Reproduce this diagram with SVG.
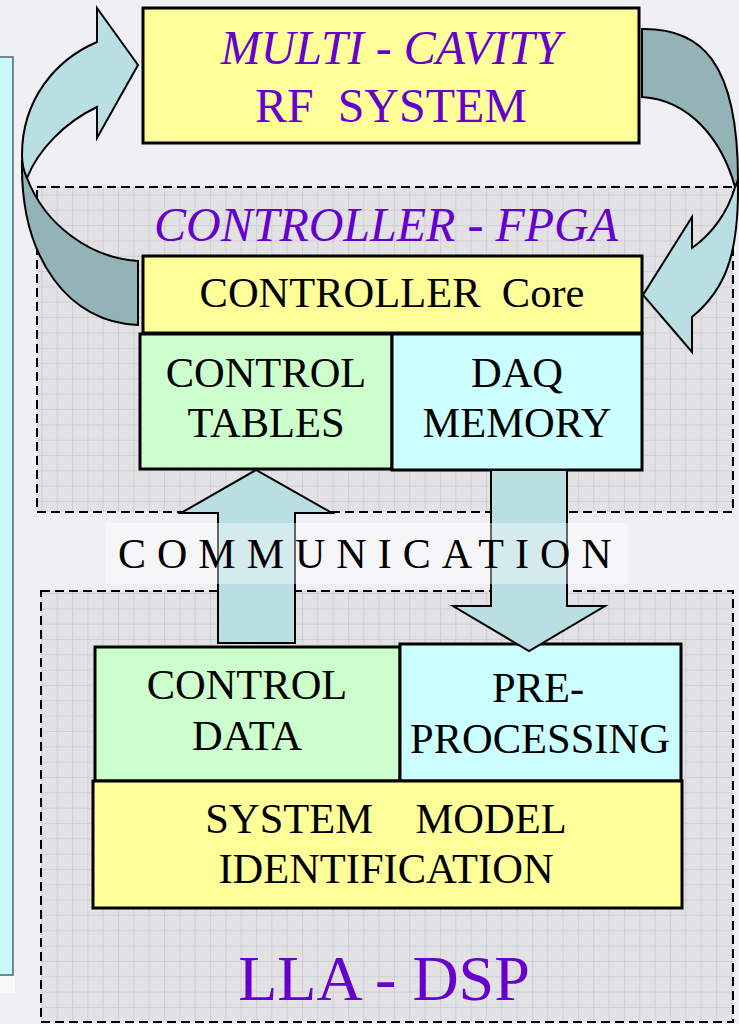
<svg xmlns="http://www.w3.org/2000/svg" width="739" height="1024" viewBox="0 0 739 1024">
<defs>
<style>
.box{stroke:#000;stroke-width:3}
.y{fill:#ffff99}
.g{fill:#ccffcc}
.c{fill:#ccffff}
.t{font-family:"Liberation Serif","Times New Roman",serif;fill:#000;font-size:42.5px;text-anchor:middle}
.p{fill:#6600cc;font-size:48px}
.i{font-style:italic}
.dash{fill:url(#grid);stroke:#000;stroke-width:2;stroke-dasharray:9 5}
.ar{stroke:#000;stroke-width:2;stroke-linejoin:miter}
.al{fill:#b9dfe3}
.ad{fill:#94b3b7}
</style>
<pattern id="grid" patternUnits="userSpaceOnUse" width="15.33" height="15.33" x="10.7" y="10.5">
<rect width="15.33" height="15.33" fill="#e2e2e5"/>
<path d="M0,0.5 H15.33 M0.5,0 V15.33" stroke="#d0d0d4" stroke-width="1" fill="none"/>
</pattern>
</defs>
<rect width="739" height="1024" fill="#f0f0f4"/>
<rect x="-2" y="57" width="15" height="918" fill="#c8f8f8" stroke="#4f6a6a" stroke-width="1.5"/>
<rect x="0" y="976" width="15" height="17" fill="#f8f8f8"/>

<g id="controller-fpga">
<rect class="dash" x="37" y="187" width="696" height="325"/>
<text class="t p i" x="386" y="241">CONTROLLER - FPGA</text>
</g>
<g id="lla-dsp">
<rect class="dash" x="41" y="591" width="692" height="431"/>
<text class="t p" x="384" y="1000" style="font-size:64px">LLA - DSP</text>
</g>

<g id="multi-cavity">
<rect class="box y" x="143" y="8" width="496" height="135"/>
<text class="t p i" x="391" y="64">MULTI - CAVITY</text>
<text class="t p" x="391" y="122" xml:space="preserve">RF  SYSTEM</text>
</g>
<g id="controller-core">
<rect class="box y" x="143" y="256" width="499" height="77"/>
<text class="t" x="392" y="307" xml:space="preserve">CONTROLLER  Core</text>
</g>
<g id="control-tables">
<rect class="box g" x="140" y="334" width="252" height="135"/>
<text class="t" x="266" y="387">CONTROL</text>
<text class="t" x="266" y="437">TABLES</text>
</g>
<g id="daq-memory">
<rect class="box c" x="392" y="334" width="250" height="136"/>
<text class="t" x="517" y="387">DAQ</text>
<text class="t" x="517" y="437">MEMORY</text>
</g>
<g id="control-data">
<rect class="box g" x="95" y="647" width="305" height="134"/>
<text class="t" x="247" y="699">CONTROL</text>
<text class="t" x="247" y="750">DATA</text>
</g>
<g id="pre-processing">
<rect class="box c" x="400" y="644" width="281" height="137"/>
<text class="t" x="538" y="702">PRE-</text>
<text class="t" x="540" y="753">PROCESSING</text>
</g>
<g id="system-model">
<rect class="box y" x="93" y="781" width="589" height="127"/>
<text class="t" x="386" y="833" xml:space="preserve">SYSTEM    MODEL</text>
<text class="t" x="386" y="883">IDENTIFICATION</text>
</g>

<g id="connectors">
<path class="ar ad" d="M138,261 C90,258 45,225 27,178 L22,160 C20,260 70,323 138,325 Z"/>
<path class="ar al" d="M97,42 C55,60 22,100 22,155 C22,165 24,172 27,178 C38,150 65,122 97,107 L97,138 L138,65 L97,8 Z"/>
<path class="ar ad" d="M642,29 C700,28 738,60 738,180 L735,187 C722,140 690,100 642,97 Z"/>
<path class="ar al" d="M735,187 C728,212 712,234 692,248 L692,217 L643,295 L692,352 L692,317 C725,290 739,255 738,183 Z"/>
<path class="ar al" d="M218,643 L218,513 L181,513 L256,470 L332,513 L295,513 L295,643 Z"/>
<path class="ar al" d="M491,470 L567,470 L567,606 L605,606 L529,651 L453,606 L491,606 Z"/>
</g>

<g id="communication">
<rect x="105" y="523" width="523" height="61" fill="#ffffff" fill-opacity="0.4"/>
<text class="t" x="118" y="568" style="font-size:42px;text-anchor:start;letter-spacing:11px">COMMUNICATION</text>
</g>
</svg>
